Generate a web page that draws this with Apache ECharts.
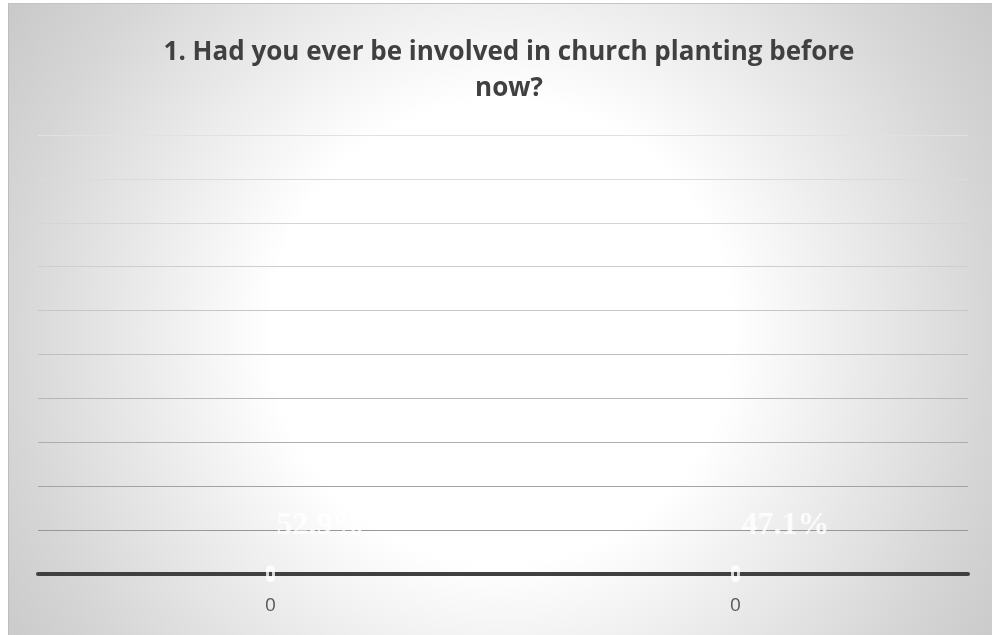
<!DOCTYPE html>
<html>
<head>
<meta charset="utf-8">
<script src="https://cdn.jsdelivr.net/npm/echarts@6/dist/echarts.min.js"></script>
<style>
  html, body { margin: 0; padding: 0; background: #ffffff; }
  #chart {
    position: absolute; left: 8px; top: 3px; width: 984px; height: 632px;
    box-sizing: border-box;
    border-left: 1px solid #bdbdbd; border-top: 1px solid #c4c4c4;
    background: radial-gradient(circle farthest-corner at 50% 52%,
      #ffffff 0%, #ffffff 39%, #d6d6d6 83%, #c9c9c9 100%);
  }
</style>
</head>
<body>
<div id="chart"></div>
<script>
// Survey question and answers
const titleText = '1. Had you ever be involved in church planting before\nnow?';
const categories = ['0', '0'];
const shares = [0.529, 0.471];   // share of respondents per answer

// gridline shades, from the baseline upward
const gridShades = ['#404040', '#989898', '#a3a3a3', '#adadad', '#b6b6b6', '#bebebe',
                    '#c6c6c6', '#cecece', '#d5d5d5', '#dbdbdb', '#e1e1e1'];

const chart = echarts.init(document.getElementById('chart'), null, { renderer: 'canvas' });

chart.setOption({
  backgroundColor: 'transparent',
  animation: false,
  title: {
    text: titleText,
    left: 500,
    top: 31,
    padding: 0,
    textAlign: 'center',
    textStyle: {
      fontFamily: 'Open Sans',
      fontWeight: 'bold',
      fontSize: 26,
      lineHeight: 36,
      color: '#404040'
    }
  },
  grid: { left: 29, right: 24, top: 131, bottom: 61 },
  xAxis: {
    type: 'category',
    data: categories,
    boundaryGap: true,
    axisLine: { show: true, lineStyle: { color: '#404040', width: 4 } },
    axisTick: { show: false },
    axisLabel: { color: '#595959', fontSize: 19, fontFamily: 'Open Sans', margin: 22 }
  },
  yAxis: {
    type: 'value',
    min: 0,
    max: 1000,
    interval: 100,
    axisLine: { show: false },
    axisTick: { show: false },
    axisLabel: { show: false },
    splitLine: { show: true, lineStyle: { color: gridShades, width: 1 } }
  },
  series: [{
    type: 'scatter',
    data: shares,
    symbol: 'roundRect',
    symbolSize: [6, 11],
    itemStyle: { color: 'rgba(0,0,0,0)', borderColor: '#ffffff', borderWidth: 4 },
    label: {
      show: true,
      position: 'inside',
      offset: [50, -48],
      formatter: p => (p.value * 100).toFixed(1) + '%',
      color: '#ffffff',
      fontFamily: 'Liberation Serif',
      fontWeight: 'bold',
      fontSize: 32
    },
    z: 5
  }]
});
</script>
</body>
</html>
